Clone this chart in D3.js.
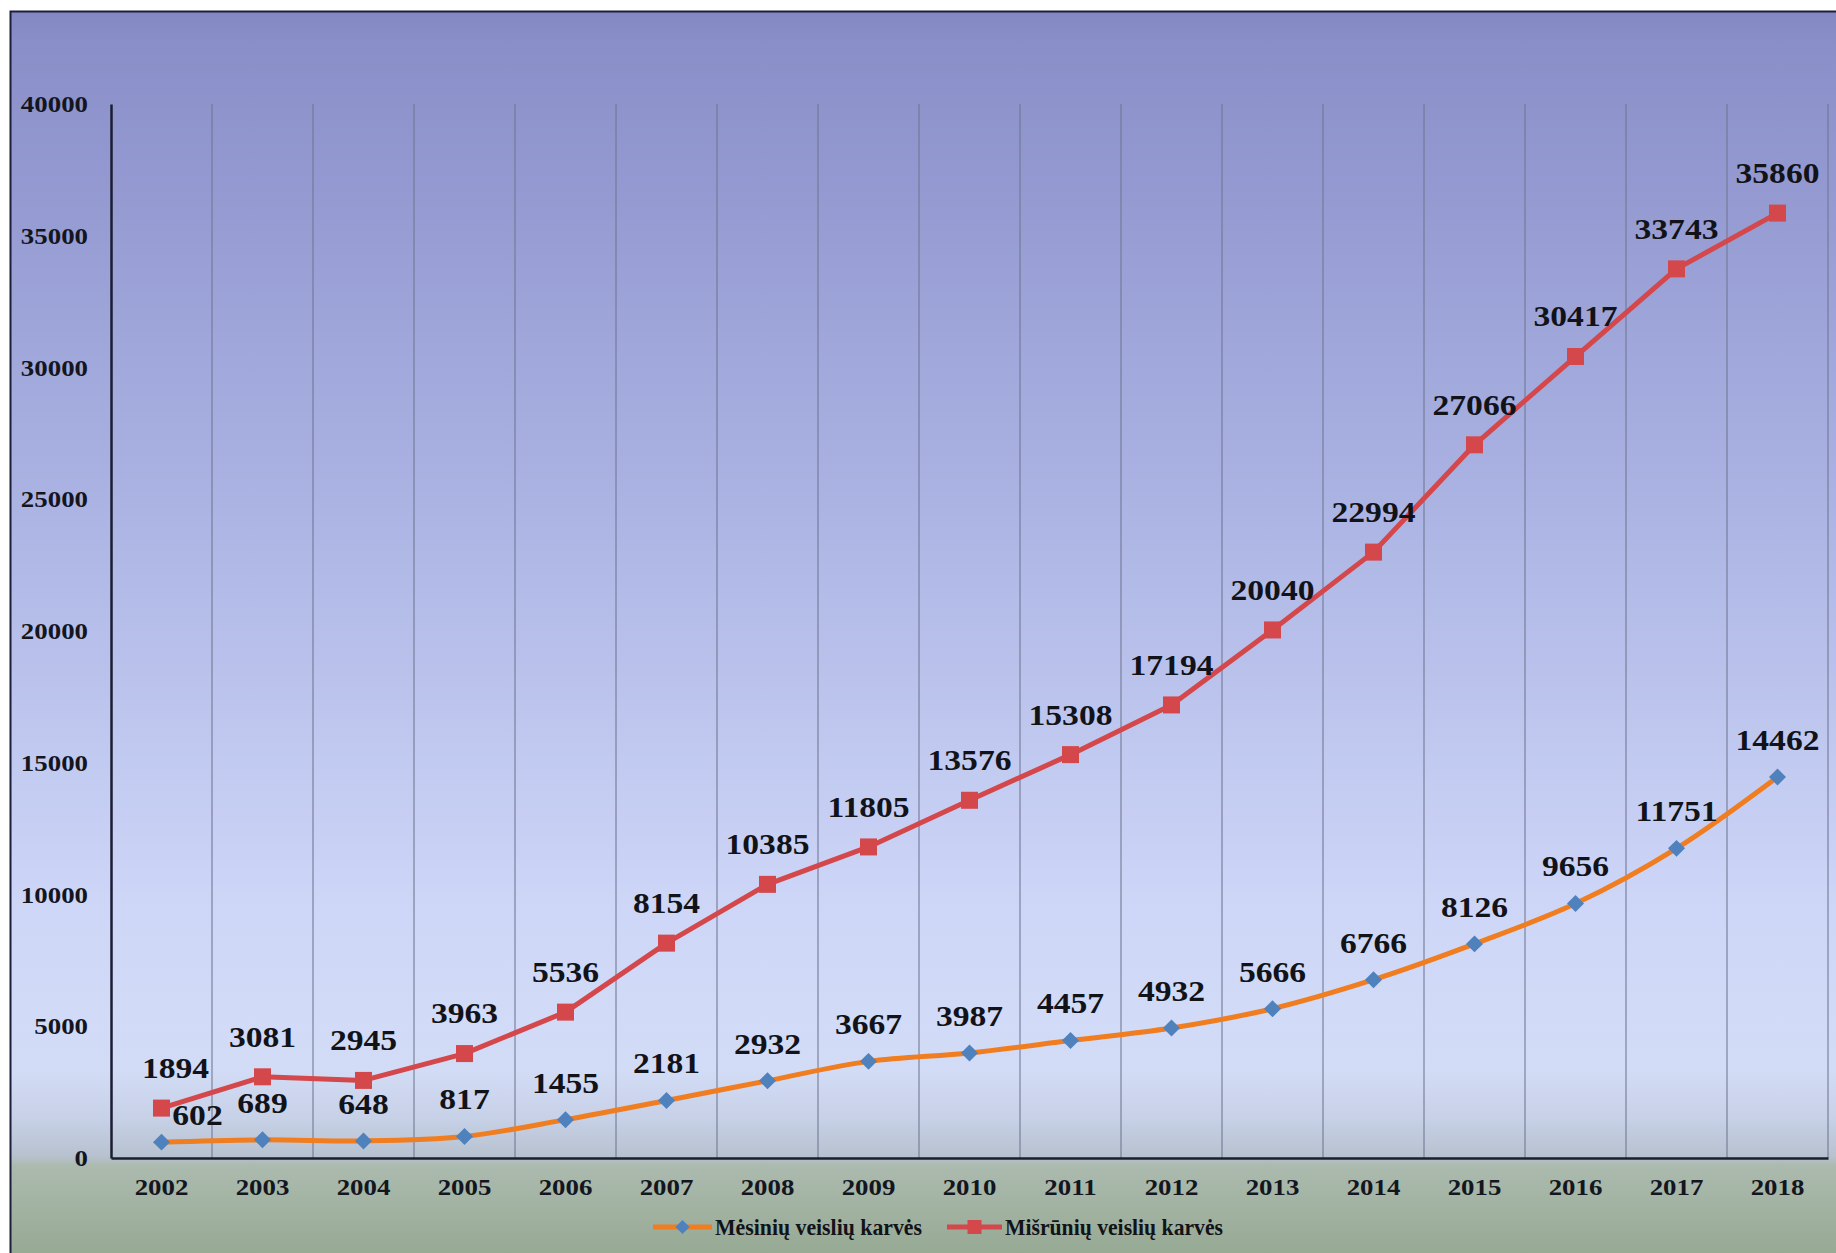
<!DOCTYPE html>
<html>
<head>
<meta charset="utf-8">
<script src="https://cdn.jsdelivr.net/npm/d3@7"></script>
<style>
  html, body { margin: 0; padding: 0; background: #ffffff; }
  svg { display: block; }
</style>
</head>
<body>
<svg id="chart" width="1836" height="1253"></svg>
<script>
// ---- data ----
const years = ["2002","2003","2004","2005","2006","2007","2008","2009","2010","2011","2012","2013","2014","2015","2016","2017","2018"];
const meatBreeds = [602, 689, 648, 817, 1455, 2181, 2932, 3667, 3987, 4457, 4932, 5666, 6766, 8126, 9656, 11751, 14462];
const crossBreeds = [1894, 3081, 2945, 3963, 5536, 8154, 10385, 11805, 13576, 15308, 17194, 20040, 22994, 27066, 30417, 33743, 35860];
const yTicks = [0, 5000, 10000, 15000, 20000, 25000, 30000, 35000, 40000];
const seriesNames = ["Mėsinių veislių karvės", "Mišrūnių veislių karvės"];

// ---- layout ----
const W = 1836, H = 1253;
const plot = { left: 111, right: 1828, top: 104, bottom: 1158 };
const SX = 1.12; // horizontal stretch of the text in the reference
const font = "'Liberation Serif', 'Times New Roman', serif";
const orange = "#f07d1f", blue = "#4f81bd", red = "#d4474a";

const svg = d3.select("#chart");
const defs = svg.append("defs");
const bgTop = 11.5, bgH = H + 10;
const grad = defs.append("linearGradient").attr("id", "bg")
  .attr("gradientUnits", "userSpaceOnUse").attr("x1", 0).attr("y1", bgTop).attr("x2", 0).attr("y2", bgTop + bgH);
const stopAt = yy => (yy - bgTop) / bgH;
[[11, "#8488c2"], [40, "#898ec8"], [500, "#abb3e3"], [900, "#cdd6f7"], [1070, "#d3dcf6"], [1120, "#c6d0e6"],
 [1156, "#b7c2cf"], [1166, "#abbaae"], [1253, "#97aa94"]]
  .forEach(([yy, c]) => grad.append("stop").attr("offset", stopAt(yy)).attr("stop-color", c));

svg.append("rect").attr("x", 10.5).attr("y", bgTop).attr("width", W + 10).attr("height", bgH)
  .attr("fill", "url(#bg)").attr("stroke", "#1c1f3a").attr("stroke-width", 2);

// ---- scales ----
const x = d3.scaleBand().domain(years).range([plot.left, plot.right]).padding(0);
const cx = d => x(d) + x.bandwidth() / 2;
const y = d3.scaleLinear().domain([0, 40000]).range([plot.bottom, plot.top]);

// vertical gridlines at category boundaries
const gridX = years.slice(1).map(d => x(d)).concat([plot.right]);
svg.append("g").selectAll("line").data(gridX).join("line")
  .attr("x1", d => d).attr("x2", d => d)
  .attr("y1", plot.top).attr("y2", plot.bottom)
  .attr("stroke", "#6f7590").attr("stroke-width", 1.3).attr("stroke-opacity", 0.8);

// y axis
const yAxis = svg.append("g").attr("transform", `translate(${plot.left},0)`)
  .call(d3.axisLeft(y).tickValues(yTicks).tickSize(0).tickPadding(23).tickFormat(d3.format("d")));
yAxis.select(".domain").attr("stroke", "#1a1d33").attr("stroke-width", 2.5);
yAxis.selectAll("text")
  .style("font-family", font).attr("font-weight", "bold").attr("font-size", 24).attr("fill", "#14161f")
  .attr("x", -23 / SX).attr("transform", `scale(${SX},1)`);

// x axis
const xAxis = svg.append("g").attr("transform", `translate(0,${plot.bottom})`)
  .call(d3.axisBottom(x).tickSize(0).tickPadding(20));
xAxis.select(".domain").attr("stroke", "#1a1d33").attr("stroke-width", 2.5);
xAxis.selectAll(".tick text")
  .style("font-family", font).attr("font-weight", "bold").attr("font-size", 24).attr("fill", "#14161f")
  .attr("transform", `scale(${SX},1)`).attr("x", 0);

// ---- lines ----
const crossData = years.map((d, i) => ({ year: d, v: crossBreeds[i] }));
const meatData = years.map((d, i) => ({ year: d, v: meatBreeds[i] }));

const crossLine = d3.line().x(d => cx(d.year)).y(d => y(d.v));
const meatLine = d3.line().x(d => cx(d.year)).y(d => y(d.v)).curve(d3.curveCatmullRom.alpha(0.5));

svg.append("path").datum(crossData).attr("d", crossLine)
  .attr("fill", "none").attr("stroke", red).attr("stroke-width", 5).attr("stroke-linejoin", "round");
svg.append("path").datum(meatData).attr("d", meatLine)
  .attr("fill", "none").attr("stroke", orange).attr("stroke-width", 5).attr("stroke-linejoin", "round");

// markers
const sq = 17;
svg.append("g").selectAll("rect").data(crossData).join("rect")
  .attr("x", d => cx(d.year) - sq / 2).attr("y", d => y(d.v) - sq / 2)
  .attr("width", sq).attr("height", sq).attr("fill", red);
const dm = 12;
svg.append("g").selectAll("rect").data(meatData).join("rect")
  .attr("x", -dm / 2).attr("y", -dm / 2).attr("width", dm).attr("height", dm)
  .attr("transform", d => `translate(${cx(d.year)},${y(d.v)}) rotate(45)`)
  .attr("fill", blue);

// ---- data labels ----
function label(g, data, dy, firstDx, firstDy) {
  g.selectAll("g").data(data).join("g")
    .attr("transform", (d, i) => `translate(${cx(d.year) + (i === 0 ? firstDx : 0)},${y(d.v) + (i === 0 ? firstDy : dy)})`)
    .append("text")
    .attr("text-anchor", "middle").attr("dominant-baseline", "central")
    .attr("transform", `scale(${SX},1)`)
    .style("font-family", font).attr("font-weight", "bold").attr("font-size", 30).attr("fill", "#111318")
    .text(d => d.v);
}
label(svg.append("g"), crossData, -40, 14, -40);
label(svg.append("g"), meatData, -37, 36, -27);

// ---- legend ----
const legY = 1227;
const leg = svg.append("g");
// series 1
leg.append("line").attr("x1", 653).attr("x2", 712).attr("y1", legY).attr("y2", legY)
  .attr("stroke", orange).attr("stroke-width", 5);
leg.append("rect").attr("x", -5).attr("y", -5).attr("width", 10).attr("height", 10)
  .attr("transform", `translate(682.5,${legY}) rotate(45)`).attr("fill", blue);
leg.append("text").attr("x", 715).attr("y", legY).attr("dominant-baseline", "central")
  .style("font-family", font).attr("font-weight", "bold").attr("font-size", 23).attr("fill", "#111318")
  .attr("textLength", 207).attr("lengthAdjust", "spacingAndGlyphs")
  .text(seriesNames[0]);
// series 2
leg.append("line").attr("x1", 947).attr("x2", 1002).attr("y1", legY).attr("y2", legY)
  .attr("stroke", red).attr("stroke-width", 5);
leg.append("rect").attr("x", 974.5 - 7).attr("y", legY - 7).attr("width", 14).attr("height", 14).attr("fill", red);
leg.append("text").attr("x", 1005).attr("y", legY).attr("dominant-baseline", "central")
  .style("font-family", font).attr("font-weight", "bold").attr("font-size", 23).attr("fill", "#111318")
  .attr("textLength", 218).attr("lengthAdjust", "spacingAndGlyphs")
  .text(seriesNames[1]);
</script>
</body>
</html>
